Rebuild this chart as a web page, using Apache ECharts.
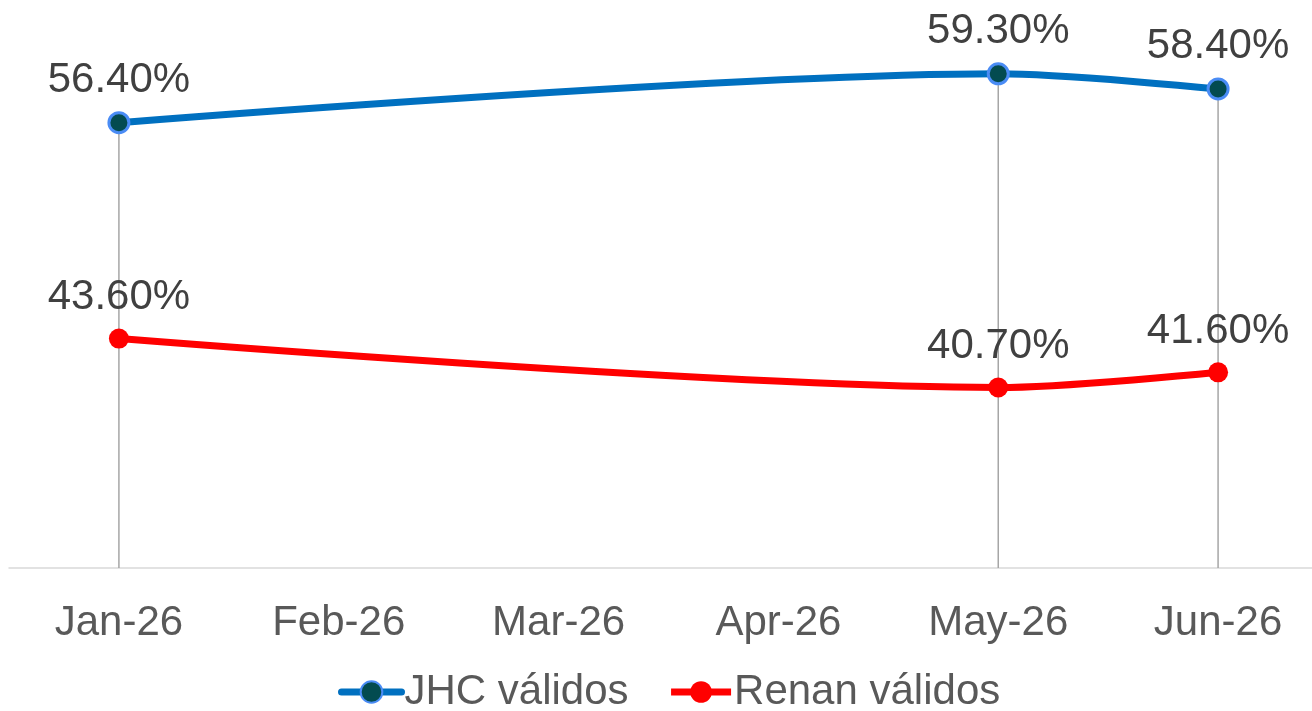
<!DOCTYPE html>
<html>
<head>
<meta charset="utf-8">
<script src="https://cdn.jsdelivr.net/npm/echarts@6/dist/echarts.min.js"></script>
<style>
html,body{margin:0;padding:0;background:#fff;overflow:hidden;width:1312px;height:711px;}
#chart{width:1328px;height:711px;}
</style>
</head>
<body>
<div id="chart"></div>
<script>
const categories = ['Jan-26','Feb-26','Mar-26','Apr-26','May-26','Jun-26'];
const jhcValues = [56.4, null, null, null, 59.3, 58.4];
const renanValues = [43.6, null, null, null, 40.7, 41.6];
const seriesNames = ['JHC válidos', 'Renan válidos'];

const FONT = '"Liberation Sans", Arial, sans-serif';
const chart = echarts.init(document.getElementById('chart'));
const fmt = p => p.value == null ? '' : p.value.toFixed(2) + '%';

chart.setOption({
  animation: false,
  backgroundColor: '#ffffff',
  grid: { left: 9, right: 0, top: 62, height: 506, containLabel: false },
  xAxis: {
    type: 'category',
    data: categories,
    boundaryGap: true,
    axisLine: { lineStyle: { color: '#D9D9D9', width: 1.5 } },
    axisTick: { show: false },
    axisLabel: { color: '#595959', fontSize: 42, fontFamily: FONT, margin: 34 },
    splitLine: { show: false }
  },
  yAxis: {
    type: 'value', min: 30, max: 60, show: false,
    splitLine: { show: false }
  },
  legend: {
    top: 671,
    left: 338,
    padding: 0,
    itemWidth: 60,
    itemHeight: 27,
    itemGap: 39,
    textStyle: { color: '#595959', fontSize: 42, fontFamily: FONT, padding: [0, 0, 0, -2] },
    data: [
      { name: seriesNames[0], lineStyle: { width: 7, color: '#0070C0', cap: 'round' } },
      { name: seriesNames[1], lineStyle: { width: 7, color: '#FF0000' } }
    ]
  },
  series: [
    {
      name: 'drop',
      type: 'bar',
      data: jhcValues,
      barWidth: 1.5,
      itemStyle: { color: '#A6A6A6' },
      silent: true,
      z: 1
    },
    {
      name: seriesNames[0],
      type: 'line',
      data: jhcValues,
      connectNulls: true,
      smooth: 0.3,
      symbol: 'circle',
      symbolSize: 20,
      lineStyle: { color: '#0070C0', width: 7 },
      itemStyle: { color: '#034B50', borderColor: '#4A8CF5', borderWidth: 3 },
      label: {
        show: true, position: 'top', distance: 10,
        formatter: fmt, color: '#404040', fontSize: 42, fontFamily: FONT
      },
      z: 3
    },
    {
      name: seriesNames[1],
      type: 'line',
      data: renanValues,
      connectNulls: true,
      smooth: 0.3,
      symbol: 'circle',
      symbolSize: 20,
      lineStyle: { color: '#FF0000', width: 7 },
      itemStyle: { color: '#FF0000', borderColor: '#FF0000', borderWidth: 0 },
      label: {
        show: true, position: 'top', distance: 10,
        formatter: fmt, color: '#404040', fontSize: 42, fontFamily: FONT
      },
      z: 3
    }
  ]
});
</script>
</body>
</html>
